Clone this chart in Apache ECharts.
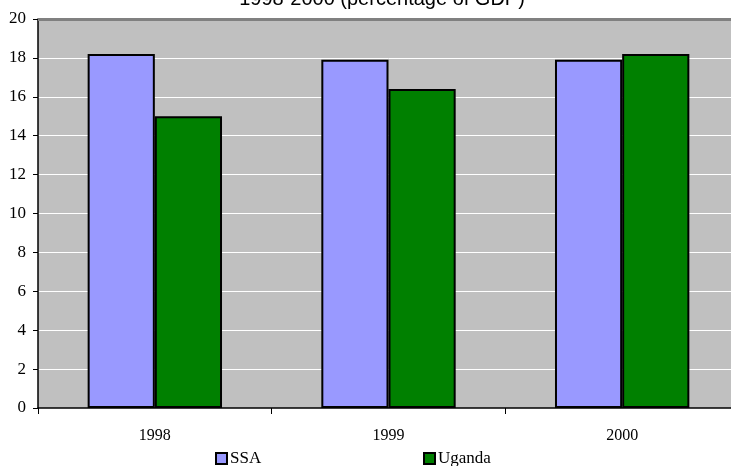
<!DOCTYPE html>
<html>
<head>
<meta charset="utf-8">
<script src="https://cdn.jsdelivr.net/npm/echarts@6/dist/echarts.min.js"></script>
<style>
  html, body { margin: 0; padding: 0; background: #fff; overflow: hidden; width: 731px; height: 466px; }
  #chart { width: 745px; height: 466px; }
</style>
</head>
<body>
<div id="chart"></div>
<script>
// Years on the category axis
const years = ['1998', '1999', '2000'];
// Share of GDP, per region
const ssaValues = [18.2, 17.9, 17.9];
const ugandaValues = [15.0, 16.4, 18.2];
// Value axis ticks
const yTicks = [0, 2, 4, 6, 8, 10, 12, 14, 16, 18, 20];

const serif = '"Liberation Serif", "Times New Roman", serif';
const chart = echarts.init(document.getElementById('chart'), null, { renderer: 'canvas' });

chart.setOption({
  animation: false,
  backgroundColor: '#ffffff',
  title: {
    text: '1998-2000 (percentage of GDP)',
    left: 377,
    textAlign: 'center',
    top: -16,
    textStyle: { fontFamily: '"Liberation Sans", Arial, sans-serif', fontSize: 20, fontWeight: 'normal', color: '#000' }
  },
  legend: [
    {
      data: ['SSA'],
      left: 210, top: 445,
      itemWidth: 11, itemHeight: 11, itemGap: 3,
      icon: 'rect',
      textStyle: { fontFamily: serif, fontSize: 17, color: '#000', padding: [0, 0, 0, -2] }
    },
    {
      data: ['Uganda'],
      left: 418, top: 445,
      itemWidth: 11, itemHeight: 11, itemGap: 3,
      icon: 'rect',
      textStyle: { fontFamily: serif, fontSize: 17, color: '#000', padding: [0, 0, 0, -2] }
    }
  ],
  grid: {
    left: 38, top: 19, width: 701, height: 389,
    show: true,
    backgroundColor: '#c0c0c0',
    borderColor: '#808080',
    borderWidth: 0
  },
  xAxis: {
    type: 'category',
    data: years,
    axisLine: { lineStyle: { color: '#000', width: 1.5 } },
    axisTick: { show: true, length: 6, inside: false, lineStyle: { color: '#000' } },
    axisLabel: { fontFamily: serif, fontSize: 16, color: '#000', margin: 20 }
  },
  yAxis: {
    type: 'value',
    min: yTicks[0],
    max: yTicks[yTicks.length - 1],
    interval: 2,
    axisLine: { show: true, lineStyle: { color: '#000', width: 1.5 } },
    axisTick: { show: true, length: 5, lineStyle: { color: '#000' } },
    axisLabel: { fontFamily: serif, fontSize: 17, color: '#000', margin: 12 },
    splitLine: { show: true, lineStyle: { color: '#ffffff', width: 1 } }
  },
  series: [
    {
      name: 'SSA',
      type: 'bar',
      data: ssaValues,
      barGap: '0%',
      barCategoryGap: '42.5%',
      itemStyle: { color: '#9999ff', borderColor: '#000', borderWidth: 2 }
    },
    {
      name: 'Uganda',
      type: 'bar',
      data: ugandaValues,
      itemStyle: { color: '#008000', borderColor: '#000', borderWidth: 2 }
    },
    {
      // darker rim along the top of the plot area
      type: 'line',
      data: [],
      markLine: {
        silent: true,
        symbol: 'none',
        label: { show: false },
        lineStyle: { color: '#808080', width: 3, type: 'solid' },
        data: [{ yAxis: yTicks[yTicks.length - 1] }]
      }
    }
  ]
});
</script>
</body>
</html>
